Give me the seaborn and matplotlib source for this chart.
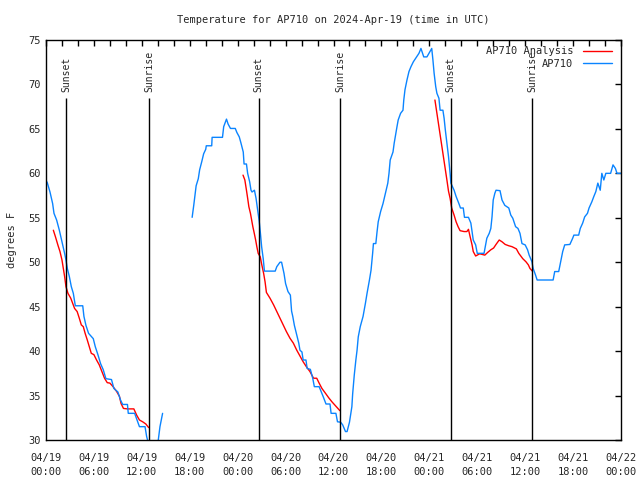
"""
Temperature for AP710, observations vs analysis, 2024-Apr-19 .. 04/22 (UTC)
"""

import numpy as np
import pandas as pd
import matplotlib
matplotlib.use("Agg")
import matplotlib.pyplot as plt
import matplotlib.dates as mdates
import seaborn as sns

# hours since 2024-04-19 00:00 UTC, temperature in degrees F
obs_hours_1 = [0.0, 0.16, 0.5, 0.83, 1.0, 1.33, 1.67, 2.0, 2.33, 2.5, 2.67, 2.92,
               3.17, 3.42, 3.67, 4.6, 4.75, 5.0, 5.33, 5.92, 6.17, 6.5, 6.83, 7.17,
               7.5, 8.2, 8.5, 9.0, 9.33, 9.6, 10.2, 10.3, 11.1, 11.4, 11.7, 12.4,
               12.6, 13.0, 13.7, 14.06, 14.27, 14.6]
obs_temp_1 = [59.2, 58.95, 57.9, 56.6, 55.5, 54.75, 53.6, 52.3, 51.0, 50.25, 49.3, 48.4,
              47.25, 46.5, 45.1, 45.1, 43.9, 42.9, 42.0, 41.4, 40.5, 39.6, 38.6, 37.9,
              36.9, 36.8, 35.8, 35.4, 34.5, 34.0, 34.0, 33.0, 33.0, 32.25, 31.5, 31.5,
              30.4, 29.0, 29.0, 30.0, 31.5, 33.0]

obs_hours_2 = [18.3, 18.5, 18.66, 18.8, 19.07, 19.24, 19.5, 19.74, 20.0, 20.07, 20.75, 20.8,
               22.1, 22.25, 22.6, 22.8, 23.1, 23.7, 23.9, 24.2, 24.4, 24.7, 24.8, 25.1,
               25.25, 25.5, 25.67, 25.8, 26.1, 26.3, 26.5, 26.7, 26.85, 27.0, 27.2, 27.35,
               28.7, 28.9, 29.3, 29.5, 29.8, 30.0, 30.3, 30.6, 30.75, 30.9, 31.1, 31.4,
               31.65, 31.8, 32.05, 32.2, 32.55, 32.7, 33.1, 33.4, 33.6, 34.2, 34.55, 34.7,
               35.06, 35.56, 35.7, 36.3, 36.5, 36.9, 37.15, 37.5, 37.7, 38.0, 38.3, 38.4,
               38.6, 38.8, 38.95, 39.1, 39.35, 39.7, 40.0, 40.2, 40.5, 40.7, 40.9, 41.0,
               41.3, 41.45, 41.6, 41.9, 42.2, 42.5, 42.8, 42.95, 43.1, 43.45, 43.6, 43.8,
               43.95, 44.1, 44.4, 44.7, 44.8, 44.95, 45.2, 45.45, 45.7, 46.0, 46.4, 46.7,
               46.95, 47.3, 47.7, 47.95, 48.3, 48.45, 48.6, 48.8, 48.95, 49.2, 49.35, 49.7,
               49.85, 50.0, 50.2, 50.4, 50.6, 50.7, 51.1, 51.35, 51.7, 51.9, 52.25, 52.4,
               52.9, 53.2, 53.35, 53.5, 53.8, 54.0, 54.85, 55.0, 55.2, 55.5, 55.7, 55.85,
               56.0, 56.2, 56.35, 56.85, 57.1, 57.45, 57.95, 58.2, 58.45, 58.8, 59.1, 59.35,
               59.6, 60.0, 60.3, 60.5, 60.85, 61.0, 61.3, 61.5, 63.5, 63.7, 64.2, 64.45,
               64.7, 64.95, 65.6, 65.95, 66.1, 66.7, 66.9, 67.2, 67.45, 67.8, 68.0, 68.35,
               68.6, 68.85, 69.1, 69.4, 69.6, 69.85, 70.1, 70.7, 71.0, 71.3, 71.5, 72.0]
obs_temp_2 = [55.05, 56.4, 57.6, 58.6, 59.4, 60.4, 61.3, 62.2, 62.7, 63.1, 63.1, 64.05,
              64.05, 65.25, 66.1, 65.55, 65.05, 65.05, 64.6, 64.1, 63.45, 62.4, 61.05, 61.05,
              60.0, 59.05, 58.1, 57.9, 58.1, 57.2, 55.9, 54.6, 53.25, 51.75, 50.4, 49.0,
              49.0, 49.5, 50.0, 50.0, 48.75, 47.6, 46.7, 46.3, 44.5, 43.9, 42.9, 41.8,
              40.9, 40.1, 39.9, 39.0, 39.0, 38.05, 37.95, 36.95, 36.0, 36.0, 35.25, 34.9,
              34.05, 34.05, 33.0, 33.0, 32.05, 32.0, 31.7, 30.95, 30.95, 32.0, 33.75, 35.2,
              37.3, 39.0, 40.1, 41.6, 42.75, 43.9, 45.4, 46.5, 48.0, 49.1, 51.0, 52.1,
              52.1, 53.4, 54.55, 55.7, 56.6, 57.75, 58.9, 60.0, 61.5, 62.4, 63.4, 64.5,
              65.25, 66.0, 66.75, 67.1, 68.25, 69.4, 70.5, 71.45, 72.0, 72.55, 73.1, 73.5,
              74.05, 73.1, 73.1, 73.5, 74.05, 72.75, 71.25, 69.75, 69.0, 68.45, 67.1, 67.1,
              66.2, 64.9, 63.4, 61.9, 60.0, 58.9, 58.1, 57.4, 56.6, 56.1, 56.1, 55.05,
              55.05, 54.4, 53.45, 52.5, 51.95, 51.0, 51.0, 51.75, 52.7, 53.25, 53.8, 55.1,
              57.0, 57.75, 58.1, 58.05, 57.0, 56.4, 56.1, 55.3, 54.95, 54.0, 53.8, 53.25,
              52.1, 51.95, 51.4, 50.8, 50.05, 49.3, 48.55, 48.0, 48.0, 48.95, 48.95, 50.05,
              51.2, 51.95, 52.0, 52.7, 53.05, 53.05, 53.8, 54.4, 55.1, 55.5, 56.1, 56.8,
              57.4, 57.95, 58.9, 58.1, 60.0, 59.25, 60.0, 60.0, 60.95, 60.55, 60.0, 60.0]

ana_hours_1 = [0.92, 1.17, 1.5, 1.75, 2.0, 2.17, 2.33, 2.5, 2.75, 3.1, 3.33, 3.58, 3.9,
               4.17, 4.42, 4.67, 4.9, 5.17, 5.42, 5.67, 6.0, 6.33, 6.67, 7.0, 7.33, 7.67,
               8.0, 8.4, 8.85, 9.2, 9.4, 9.7, 10.2, 11.0, 11.35, 11.7, 12.1, 12.5, 12.85]
ana_temp_1 = [53.6, 52.9, 51.9, 51.2, 50.25, 49.3, 48.4, 47.25, 46.5, 45.95, 45.4, 44.8, 44.45,
              43.7, 42.95, 42.75, 42.0, 41.25, 40.5, 39.75, 39.6, 39.0, 38.45, 37.7, 36.95, 36.45,
              36.4, 36.0, 35.45, 34.9, 34.1, 33.55, 33.5, 33.5, 32.8, 32.25, 32.05, 31.8, 31.4]

ana_hours_2 = [24.67, 24.9, 25.1, 25.25, 25.4, 25.6, 25.75, 25.9, 26.08, 26.25, 26.4, 26.57,
               26.83, 27.0, 27.25, 27.43, 27.6, 28.05, 28.5, 28.9, 29.3, 29.7, 30.1, 30.55,
               30.97, 31.4, 31.8, 32.2, 32.6, 33.05, 33.5, 33.9, 34.2, 34.55, 35.0, 35.4,
               35.8, 36.2, 36.55, 36.8]
ana_temp_2 = [59.8, 59.25, 58.1, 57.2, 56.25, 55.5, 54.75, 54.0, 53.25, 52.5, 51.75, 51.0,
              50.6, 49.8, 48.75, 47.8, 46.6, 45.95, 45.2, 44.45, 43.7, 42.95, 42.2, 41.45,
              40.9, 40.1, 39.45, 38.8, 38.25, 37.7, 36.95, 36.95, 36.4, 35.8, 35.25, 34.75,
              34.3, 33.9, 33.55, 33.3]

ana_hours_3 = [48.7, 48.95, 49.2, 49.45, 49.7, 49.95, 50.2, 50.4, 50.6, 50.8, 51.1, 51.35,
               51.6, 51.85, 52.35, 52.7, 52.9, 53.1, 53.35, 53.5, 53.8, 54.3, 54.95, 55.3,
               55.7, 56.05, 56.35, 56.75, 57.1, 57.5, 57.95, 58.35, 58.9, 59.2, 59.7, 60.1,
               60.4, 60.6, 60.9]
ana_temp_3 = [68.25, 66.75, 65.25, 63.75, 62.25, 60.75, 59.25, 58.0, 57.2, 56.1, 55.3, 54.55,
              54.0, 53.55, 53.45, 53.45, 53.7, 52.9, 51.95, 51.2, 50.7, 50.95, 50.8, 51.1,
              51.4, 51.6, 52.0, 52.5, 52.3, 52.0, 51.85, 51.75, 51.5, 51.0, 50.4, 50.05,
              49.7, 49.3, 49.0]

sun_times = ["2024-04-19 02:33", "2024-04-19 12:56", "2024-04-20 02:38",
             "2024-04-20 12:52", "2024-04-21 02:40", "2024-04-21 12:54"]
sun_labels = ["Sunset", "Sunrise", "Sunset", "Sunrise", "Sunset", "Sunrise"]

start = pd.Timestamp("2024-04-19 00:00")
MONO = ["DejaVu Sans Mono"]


def build_frame():
    """Stack every segment into one long table"""
    segments = [
        ("AP710", obs_hours_1, obs_temp_1),
        ("AP710", obs_hours_2, obs_temp_2),
        ("AP710 Analysis", ana_hours_1, ana_temp_1),
        ("AP710 Analysis", ana_hours_2, ana_temp_2),
        ("AP710 Analysis", ana_hours_3, ana_temp_3),
    ]
    parts = []
    for i, (name, hrs, temps) in enumerate(segments):
        parts.append(pd.DataFrame({
            "time": start + pd.to_timedelta(np.array(hrs), unit="h"),
            "temp": temps,
            "series": name,
            "seg": i,
        }))
    return pd.concat(parts, ignore_index=True)


df = build_frame()

sns.set_style("white")
plt.rcParams["font.family"] = MONO
plt.rcParams["font.size"] = 7

fig = plt.figure(figsize=(6.4, 4.8), dpi=100)
ax = fig.add_axes([46 / 640, 40 / 480, 575 / 640, 400 / 480])

sns.lineplot(data=df, x="time", y="temp", hue="series", units="seg",
             estimator=None, sort=False, ax=ax, linewidth=1.0,
             hue_order=["AP710 Analysis", "AP710"],
             palette={"AP710 Analysis": "#ff0000", "AP710": "#0a84ff"})

# sunrise / sunset markers
sun_dt = pd.to_datetime(sun_times)
ax.vlines(sun_dt, 30, 68.5, color="black", linewidth=1.0)
for t, lab in zip(sun_dt, sun_labels):
    ax.text(t, 69.1, lab, rotation=90, ha="center", va="bottom", fontsize=7, family=MONO)

ax.set_xlim(start, start + pd.Timedelta(hours=72))
ax.set_ylim(30, 75)
ax.set_yticks(np.arange(30, 76, 5))
ax.xaxis.set_major_locator(mdates.HourLocator(byhour=[0, 6, 12, 18]))
ax.xaxis.set_minor_locator(mdates.HourLocator(byhour=range(0, 24, 2)))
ax.xaxis.set_major_formatter(mdates.DateFormatter("%m/%d\n%H:%M"))
ax.tick_params(axis="both", which="both", direction="in", top=True, right=True,
               length=4, width=1, color="black", labelsize=7.5)
ax.tick_params(axis="x", which="major", pad=9)
ax.tick_params(axis="y", pad=4)
for lab in ax.get_xticklabels():
    lab.set_linespacing(1.6)

for sp in ax.spines.values():
    sp.set_color("black")
    sp.set_linewidth(1.0)

ax.set_xlabel("")
ax.set_ylabel("degrees F", fontsize=7.5, labelpad=8)
ax.set_title("Temperature for AP710 on 2024-Apr-19 (time in UTC)", fontsize=7.5, pad=12)

sns.move_legend(ax, "upper right", bbox_to_anchor=(0.995, 1.0), frameon=False,
                title=None, markerfirst=False, fontsize=7.5, handlelength=2.8,
                handletextpad=0.9, labelspacing=0.25, borderaxespad=0.2)

fig.savefig("out.png", dpi=100)
